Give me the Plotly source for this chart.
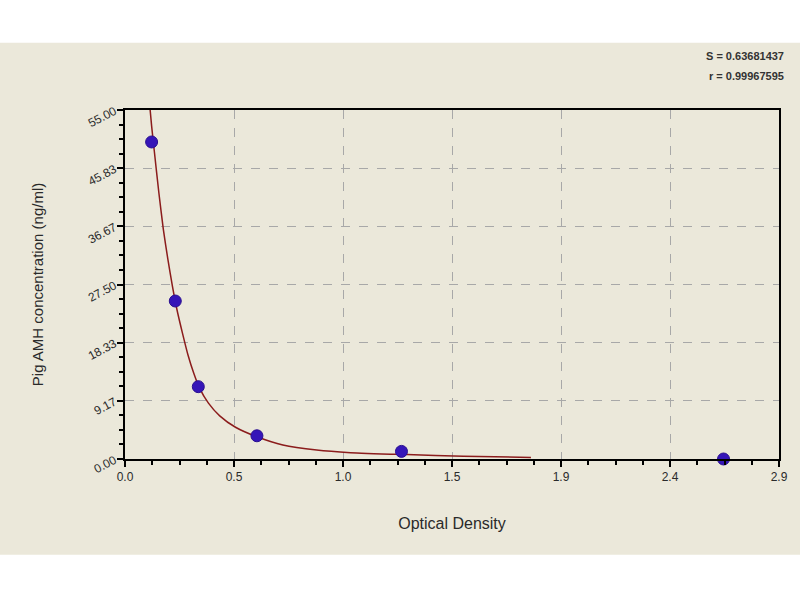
import plotly.graph_objects as go

# Standard points (optical density vs concentration)
std_od = [0.118, 0.223, 0.325, 0.585, 1.226, 2.654]
std_conc = [49.96, 24.9, 11.4, 3.66, 1.2, 0.0]

# Fitted curve
curve_od = [0.1076, 0.118, 0.130, 0.150, 0.170, 0.190, 0.210, 0.230, 0.255, 0.280, 0.305, 0.330,
            0.370, 0.420, 0.490, 0.585, 0.700, 0.850, 1.000, 1.250, 1.500, 1.800]
curve_conc = [56.5, 52.5, 48.5, 42.0, 36.2, 31.5, 27.3, 23.6, 19.8, 16.3, 13.5, 11.2,
              8.8, 6.8, 5.0, 3.5, 2.2, 1.4, 1.0, 0.7, 0.45, 0.25]

x_tickvals = [0, 2.9 / 6, 2 * 2.9 / 6, 3 * 2.9 / 6, 4 * 2.9 / 6, 5 * 2.9 / 6, 2.9]
x_ticktext = ["0.0", "0.5", "1.0", "1.5", "1.9", "2.4", "2.9"]
y_tickvals = [0, 55 / 6, 2 * 55 / 6, 3 * 55 / 6, 4 * 55 / 6, 5 * 55 / 6, 55]
y_ticktext = ["0.00", "9.17", "18.33", "27.50", "36.67", "45.83", "55.00"]

fig = go.Figure()
fig.add_trace(go.Scatter(
    x=curve_od, y=curve_conc, mode="lines",
    line=dict(color="#8b1c1c", width=1.5, shape="spline", smoothing=0.6),
    hoverinfo="skip", showlegend=False,
))
fig.add_trace(go.Scatter(
    x=std_od, y=std_conc, mode="markers",
    marker=dict(color="#3515b8", size=12, symbol="circle",
                line=dict(color="#2a0f90", width=1)),
    showlegend=False, cliponaxis=False,
))

font_c = "#2a2a2a"
fig.update_layout(
    width=800, height=600,
    margin=dict(l=125, r=12, t=110, b=141),
    paper_bgcolor="white",
    plot_bgcolor="white",
    font=dict(family="Arial, Liberation Sans, sans-serif", color=font_c),
    shapes=[dict(type="rect", xref="paper", yref="paper",
                 x0=-0.2, x1=1.1, y0=-0.2746, y1=1.1925,
                 fillcolor="#ebe8da", line=dict(width=0), layer="below")],
    annotations=[
        dict(text="<b>S = 0.63681437</b>", xref="paper", yref="paper",
             x=1.01, y=1.155, xanchor="right", yanchor="middle",
             showarrow=False, font=dict(size=11, color="#333333")),
        dict(text="<b>r = 0.99967595</b>", xref="paper", yref="paper",
             x=1.01, y=1.098, xanchor="right", yanchor="middle",
             showarrow=False, font=dict(size=11, color="#333333")),
    ],
)
fig.update_xaxes(
    range=[0, 2.9], tickvals=x_tickvals, ticktext=x_ticktext,
    showline=True, linecolor="black", linewidth=2, mirror=True,
    ticks="outside", ticklen=6, tickcolor="black", tickwidth=1.5,
    minor=dict(dtick=2.9 / 24, tick0=0, ticks="outside", ticklen=4, tickcolor="black", showgrid=False),
    showgrid=True, gridcolor="#a8a8a8", griddash="dash", gridwidth=1,
    zeroline=False,
    tickfont=dict(size=12, color=font_c),
    title=dict(text="Optical Density", font=dict(size=16, color=font_c), standoff=34),
)
fig.update_yaxes(
    range=[0, 55], tickvals=y_tickvals, ticktext=y_ticktext,
    showline=True, linecolor="black", linewidth=2, mirror=True,
    ticks="outside", ticklen=6, tickcolor="black", tickwidth=1.5,
    minor=dict(dtick=55 / 24, tick0=0, ticks="outside", ticklen=4, tickcolor="black", showgrid=False),
    showgrid=True, gridcolor="#a8a8a8", griddash="dash", gridwidth=1,
    zeroline=False, tickangle=-28,
    tickfont=dict(size=12, color=font_c),
    title=dict(text="Pig AMH concentration (ng/ml)", font=dict(size=15, color=font_c), standoff=38),
)

fig.write_html("out.html",
               config={"displayModeBar": False},
               post_script="document.body.style.margin='0';document.body.style.overflow='hidden';")
